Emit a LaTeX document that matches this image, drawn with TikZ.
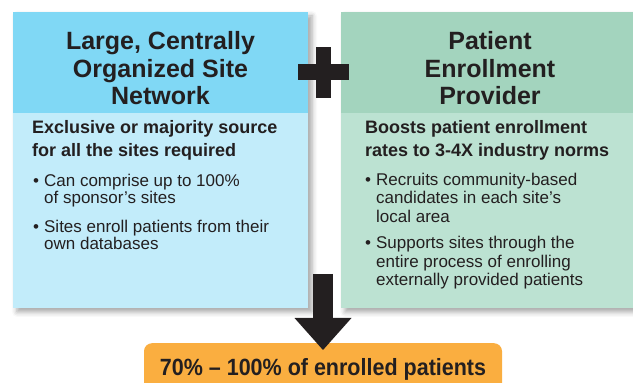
\documentclass[tikz,border=0pt]{standalone}
\usepackage{fontspec}
\setmainfont{Liberation Sans}
\usepackage{graphicx}
\usetikzlibrary{arrows.meta,positioning,shadows.blur}

\definecolor{nethead}{RGB}{128,216,245}
\definecolor{netbody}{RGB}{194,236,250}
\definecolor{provhead}{RGB}{163,212,190}
\definecolor{provbody}{RGB}{188,226,210}
\definecolor{outcome}{RGB}{250,174,64}
\definecolor{ink}{RGB}{35,31,32}

% indent for the follow-on lines of a bullet
\newcommand{\indnt}{\hspace*{11pt}}

\begin{document}
\begin{tikzpicture}[x=1pt, y=1pt,
      panel/.style={rectangle, inner sep=0pt, outer sep=0pt, minimum height=296pt,
                    blur shadow={shadow xshift=4pt, shadow yshift=-4pt,
                                 shadow blur radius=5pt, shadow opacity=35}},
      hdr/.style={rectangle, inner sep=0pt, outer sep=0pt, minimum height=101pt, anchor=north},
      title/.style={align=center, text=ink, inner sep=0pt,
                    font=\fontsize{25}{27.5}\selectfont\bfseries},
      lead/.style={anchor=north west, align=left, text=ink, inner sep=0pt,
                   font=\fontsize{18}{23}\selectfont\bfseries},
      item/.style={anchor=north west, align=left, text=ink, inner sep=0pt,
                   font=\fontsize{17}{17}\selectfont},
      arr/.style={line width=20pt, color=ink,
                  -{Triangle[width=57pt, length=32pt, line width=0pt]}}
  ]
    \useasboundingbox (0,0) rectangle (633,383);
    \clip (0,0) rectangle (633,383);

    % site network panel
    \node[panel, fill=netbody, minimum width=295pt] (net) at (160.5,223) {};
    \node[hdr, fill=nethead, minimum width=295pt] (nethd) at (net.north) {};
    % enrollment provider panel
    \node[panel, fill=provbody, minimum width=298pt] (prov) at (490,223) {};
    \node[hdr, fill=provhead, minimum width=298pt] (provhd) at (prov.north) {};

    \node[title] (nettl) at ([yshift=-6pt]nethd.center) {Large, Centrally\\Organized Site\\Network};
    \node[title] (provtl) at ([yshift=-6pt]provhd.center) {Patient\\Enrollment\\Provider};

    \node[lead] (netlead) at (32,263) {Exclusive or majority source\\for all the sites required};
    \node[item] (net1) at (33,209.5) {\textbullet\hspace{5pt}Can comprise up to 100\%\\\indnt of sponsor’s sites};
    \node[item] (net2) at (33,163.5) {\textbullet\hspace{5pt}Sites enroll patients from their\\\indnt own databases};

    \node[lead] (provlead) at (365,263) {Boosts patient enrollment\\rates to 3-4X industry norms};
    \node[item, font=\fontsize{17}{18.5}\selectfont] (prov1) at (365,210.5)
      {\textbullet\hspace{5pt}Recruits community-based\\\indnt candidates in each site’s\\\indnt local area};
    \node[item, font=\fontsize{17}{18.5}\selectfont] (prov2) at (365,147)
      {\textbullet\hspace{5pt}Supports sites through the\\\indnt entire process of enrolling\\\indnt externally provided patients};

    % plus sign between the panels
    \coordinate (plus) at (323.5,310.5);
    \fill[ink] ([xshift=-7.5pt, yshift=-25.5pt]plus) rectangle ([xshift=7.5pt, yshift=25.5pt]plus);
    \fill[ink] ([xshift=-25.5pt, yshift=-8pt]plus) rectangle ([xshift=25.5pt, yshift=8pt]plus);

    % outcome
    \node[rectangle, fill=outcome, rounded corners=8pt, inner sep=0pt, anchor=north,
          minimum width=358pt, minimum height=52pt, text height=17pt, text depth=5pt,
          text=ink, font=\fontsize{23.5}{26}\selectfont\bfseries]
          (res) at (323,40) {\scalebox{0.915}[1]{70\% -- 100\% of enrolled patients}};

    \coordinate (split) at (323,109);
    \draw[arr] (split) -- ([yshift=-7pt]res.north);
\end{tikzpicture}
\end{document}
